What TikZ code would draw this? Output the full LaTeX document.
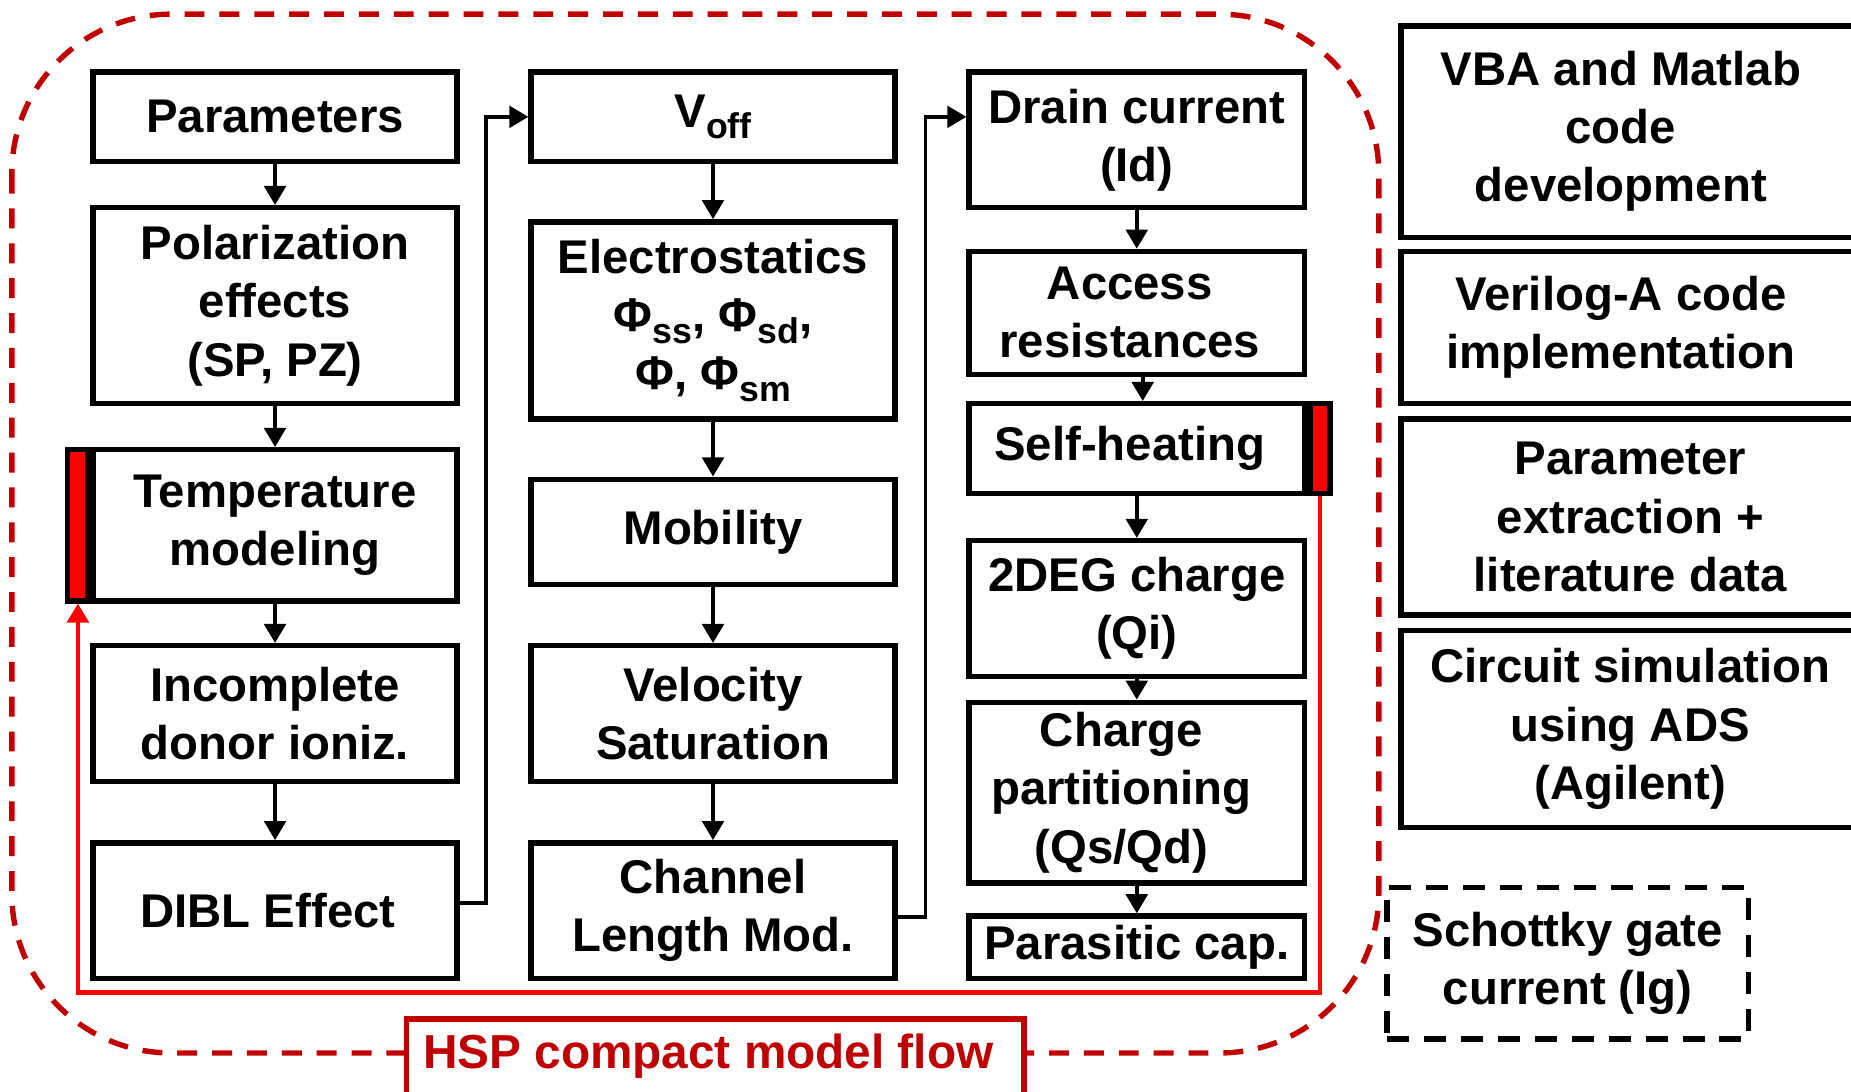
\documentclass[tikz,border=0pt]{standalone}
\usepackage{fontspec}
\setmainfont{Liberation Sans}
\usetikzlibrary{arrows.meta,positioning,calc}
\definecolor{darkred}{HTML}{C00000}
\definecolor{brightred}{HTML}{FF0000}
\newcommand\sbs[1]{\raisebox{-0.45ex}{\fontsize{8.6}{9}\selectfont #1}}
\tikzset{
  blk/.style={draw=black, line width=1.3pt, fill=white, inner sep=0pt, align=center,
    font=\fontsize{11.4}{14}\selectfont\bfseries},
  colA/.style={blk, minimum width=3.08cm},
  colC/.style={blk, minimum width=2.84cm},
  sidebox/.style={blk, minimum width=3.88cm},
  redbar/.style={draw=black, line width=1.3pt, fill=brightred, inner sep=0pt, minimum width=0.17cm},
  flow/.style={draw=black, line width=0.9pt, -{Triangle[length=4.6pt,width=5.2pt]}},
  feedback/.style={draw=brightred, line width=1.1pt, -{Triangle[length=4.6pt,width=5.2pt]}},
}
\begin{document}
\begin{tikzpicture}[x=0.01cm, y=-0.01cm]
\useasboundingbox (0,0) rectangle (1568,925);
\clip (0,0) rectangle (1568,925);
\fill[white] (0,0) rectangle (1568,925);

% model region outline
\draw[darkred, line width=1.3pt, dash pattern=on 4.8pt off 3.6pt, rounded corners=1.35cm]
  (10,12) rectangle (1168,892);

% first column
\node[colA, minimum height=0.76cm] (par) at (233,99) {Parameters};
\node[colA, minimum height=1.66cm] (pol) at (233,259) {Polarization\\effects\\(SP, PZ)};
\node[colA, minimum height=1.28cm] (tem) at (233,445) {Temperature\\modeling};
\node[colA, minimum height=1.15cm] (inc) at (233,604.5) {Incomplete\\donor ioniz.};
\node[colA, minimum height=1.15cm] (dib) at (233,771.5) {\hspace*{-3.4pt}DIBL Effect};
\node[redbar, anchor=north east, minimum height=1.28cm] (tbar) at (tem.north west) {};

% second column
\node[colA, minimum height=0.76cm] (vof) at (604,99) {V\sbs{off}};
\node[colA, minimum height=1.67cm] (ele) at (604,271.5) {Electrostatics\\Φ\sbs{ss}, Φ\sbs{sd},\\Φ, Φ\sbs{sm}};
\node[colA, minimum height=0.89cm] (mob) at (604,450.5) {Mobility};
\node[colA, minimum height=1.15cm] (vel) at (604,604.5) {Velocity\\Saturation};
\node[colA, minimum height=1.15cm] (cha) at (604,771.5) {Channel\\Length Mod.};

% third column
\node[colC, minimum height=1.15cm] (dra) at (963,118.5) {Drain current\\(Id)};
\node[colC, minimum height=1.04cm] (acc) at (963,265) {\hspace*{-3.4pt}Access\\\hspace*{-3.4pt}resistances};
\node[colC, minimum height=0.76cm] (sel) at (963,380) {\hspace*{-3.4pt}Self-heating};
\node[colC, minimum height=1.15cm] (deg) at (963,515.5) {2DEG charge\\(Qi)};
\node[colC, minimum height=1.53cm] (chp) at (963,671.5) {\hspace*{-7.4pt}Charge\\\hspace*{-7.4pt}partitioning\\\hspace*{-7.4pt}(Qs/Qd)};
\node[colC, minimum height=0.53cm] (pca) at (963,802.5) {Parasitic cap.};
\node[redbar, anchor=north west, minimum height=0.76cm] (sbar) at (sel.north east) {};

% tool chain boxes
\node[sidebox, minimum height=1.79cm] (vba) at (1381,111.5) {\hspace*{-4.5pt}VBA and Matlab\\\hspace*{-4.5pt}code\\\hspace*{-4.5pt}development};
\node[sidebox, minimum height=1.29cm] (ver) at (1381,277.5) {\hspace*{-4.5pt}Verilog-A code\\\hspace*{-4.5pt}implementation};
\node[sidebox, minimum height=1.66cm] (pex) at (1381,438) {Parameter\\extraction +\\literature data};
\node[sidebox, minimum height=1.67cm] (cir) at (1381,617.5) {Circuit simulation\\using ADS\\(Agilent)};
\node[blk, dash pattern=on 5.3pt off 3.6pt, minimum width=3.06cm, minimum height=1.28cm] (sch) at (1328,816) {Schottky gate\\current (Ig)};

% flow arrows
\draw[flow] (par) -- (pol);
\draw[flow] (pol) -- (tem);
\draw[flow] (tem) -- (inc);
\draw[flow] (inc) -- (dib);
\draw[flow] (vof) -- (ele);
\draw[flow] (ele) -- (mob);
\draw[flow] (mob) -- (vel);
\draw[flow] (vel) -- (cha);
\draw[flow] (dra) -- (deg.north |- acc.north);
\draw[flow] ($(acc.south)+(5,0)$) -- ($(sel.north)+(5,0)$);
\draw[flow] (sel) -- (deg);
\draw[flow] (deg) -- (chp);
\draw[flow] (chp) -- (pca);

% column-to-column links
\coordinate (k1) at (412,765);
\coordinate (k2) at (784,777);
\draw[flow] (dib.east |- k1) -| (k1 |- vof.west) -- (vof.west);
\draw[flow] (cha.east |- k2) -| (k2 |- vof.west) -- (dra.west |- vof.west);

% self-heating feedback to temperature
\coordinate (fb) at (66,841);
\draw[feedback] (sbar.south) |- (fb) -- (fb |- tbar.south);

% caption tab
\node[draw=darkred, line width=1.3pt, fill=white, inner sep=0pt, minimum width=5.23cm,
  minimum height=0.9cm, anchor=north west] (cap) at (342,861) {};
\node[text=darkred, font=\fontsize{11.5}{14}\selectfont\bfseries] (captxt) at (600,895) {HSP compact model flow};
\end{tikzpicture}
\end{document}
